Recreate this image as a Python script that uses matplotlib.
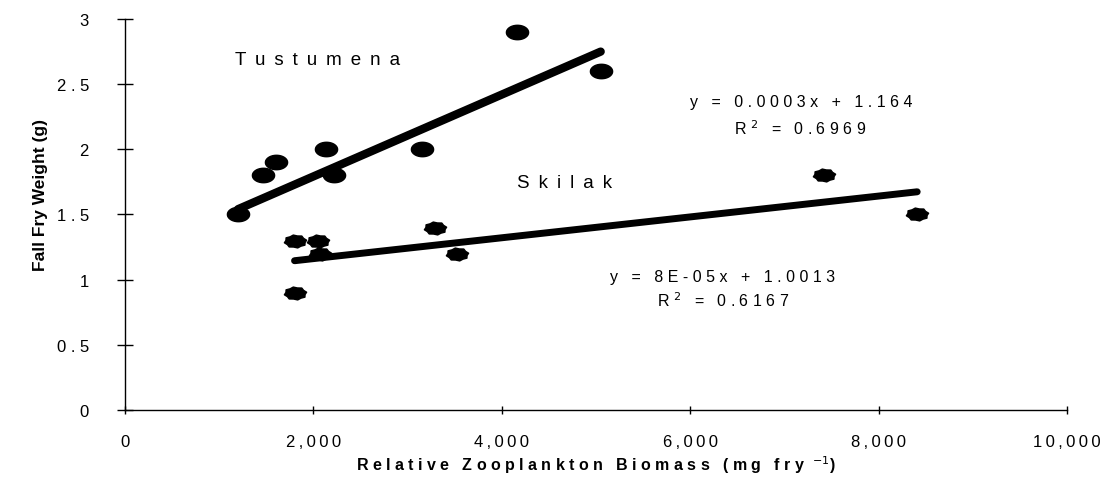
import numpy as np
import matplotlib
matplotlib.use("Agg")
import matplotlib.pyplot as plt
from matplotlib.path import Path

plt.rcParams["font.family"] = ["Liberation Sans", "DejaVu Sans"]

# data
tust_x = [1200, 1470, 1600, 2130, 2220, 3150, 4160, 5050]
tust_y = [1.5, 1.8, 1.9, 2.0, 1.8, 2.0, 2.9, 2.6]
skil_x = [1800, 1810, 2050, 2070, 3290, 3520, 7420, 8410]
skil_y = [0.9, 1.3, 1.3, 1.2, 1.4, 1.2, 1.8, 1.5]

# trendline coefficients (Excel fit)
tust_slope, tust_icpt = 0.000314, 1.164
skil_slope, skil_icpt = 0.00008, 1.0013

x_ticks = [0, 2000, 4000, 6000, 8000, 10000]
y_ticks = [0, 0.5, 1, 1.5, 2, 2.5, 3]

SP = "\u2009"


def spaced(s, sep=SP):
    return sep.join(list(s))


def ellipse_marker(aspect=0.65, n=40):
    t = np.linspace(0, 2 * np.pi, n)
    verts = np.column_stack([np.cos(t), aspect * np.sin(t)])
    return Path(verts, closed=True)


def star_marker(aspect=0.58, n=16):
    # blobby asterisk like the scanned Excel marker
    t = np.linspace(0, 2 * np.pi, n, endpoint=False) + np.pi / n
    r = np.where(np.arange(n) % 2 == 0, 1.0, 0.86)
    verts = np.column_stack([r * np.cos(t), aspect * r * np.sin(t)])
    verts = np.vstack([verts, verts[:1]])
    return Path(verts, closed=True)


fig = plt.figure(figsize=(11.12, 4.85), dpi=100)
ax = fig.add_axes([0.1124, 0.1526, 0.8471, 0.8062])

# trendlines
tx = np.array([min(tust_x), max(tust_x)])
ax.plot(tx, tust_slope * tx + tust_icpt, color="black", lw=6, solid_capstyle="round", zorder=2)
sx = np.array([min(skil_x), max(skil_x)])
ax.plot(sx, skil_slope * sx + skil_icpt, color="black", lw=5, solid_capstyle="round", zorder=2)

ax.plot(tust_x, tust_y, ls="none", marker=ellipse_marker(), ms=16, color="black", zorder=3)
ax.plot(skil_x, skil_y, ls="none", marker=star_marker(), ms=16, color="black", zorder=3)

ax.set_xlim(0, 10000)
ax.set_ylim(0, 3)
ax.set_xticks(x_ticks)
ax.set_xticklabels([spaced(f"{v:,}") for v in x_ticks], fontsize=12)
ax.set_yticks(y_ticks)
ax.set_yticklabels([spaced(f"{v:g}", " ") for v in y_ticks], fontsize=12)
ax.tick_params(axis="y", direction="inout", length=12, width=1, pad=20)
ax.tick_params(axis="x", direction="inout", length=6, width=1, pad=14)

for side in ["top", "right"]:
    ax.spines[side].set_visible(False)
for side in ["left", "bottom"]:
    ax.spines[side].set_linewidth(1.0)

ax.set_xlabel(spaced("Relative Zooplankton Biomass (mg fry", " ") + "  $^{-1}$)",
              fontsize=11.5, fontweight="bold")
ax.xaxis.set_label_coords(0.5, -0.112)
ax.set_ylabel("Fall Fry Weight (g)", fontsize=12.5, fontweight="bold")
ax.yaxis.set_label_coords(-0.082, 0.552)

ax.text(1168, 2.69, spaced("Tustumena", " " + SP), fontsize=13.5, ha="left", va="center")
ax.text(4161, 1.746, spaced("Skilak", " " + SP), fontsize=13.5, ha="left", va="center")
ax.text(7176, 2.37, spaced("y = 0.0003x + 1.164", " "), fontsize=11.5, ha="center", va="center")
ax.text(7166, 2.17, "R $^2$ " + spaced(" = 0.6969", " "), fontsize=11.5, ha="center", va="center")
ax.text(6348, 1.023, spaced("y = 8E-05x + 1.0013", " "), fontsize=11.5, ha="center", va="center")
ax.text(6348, 0.846, "R $^2$ " + spaced(" = 0.6167", " "), fontsize=11.5, ha="center", va="center")

fig.savefig("out.png", dpi=100)
